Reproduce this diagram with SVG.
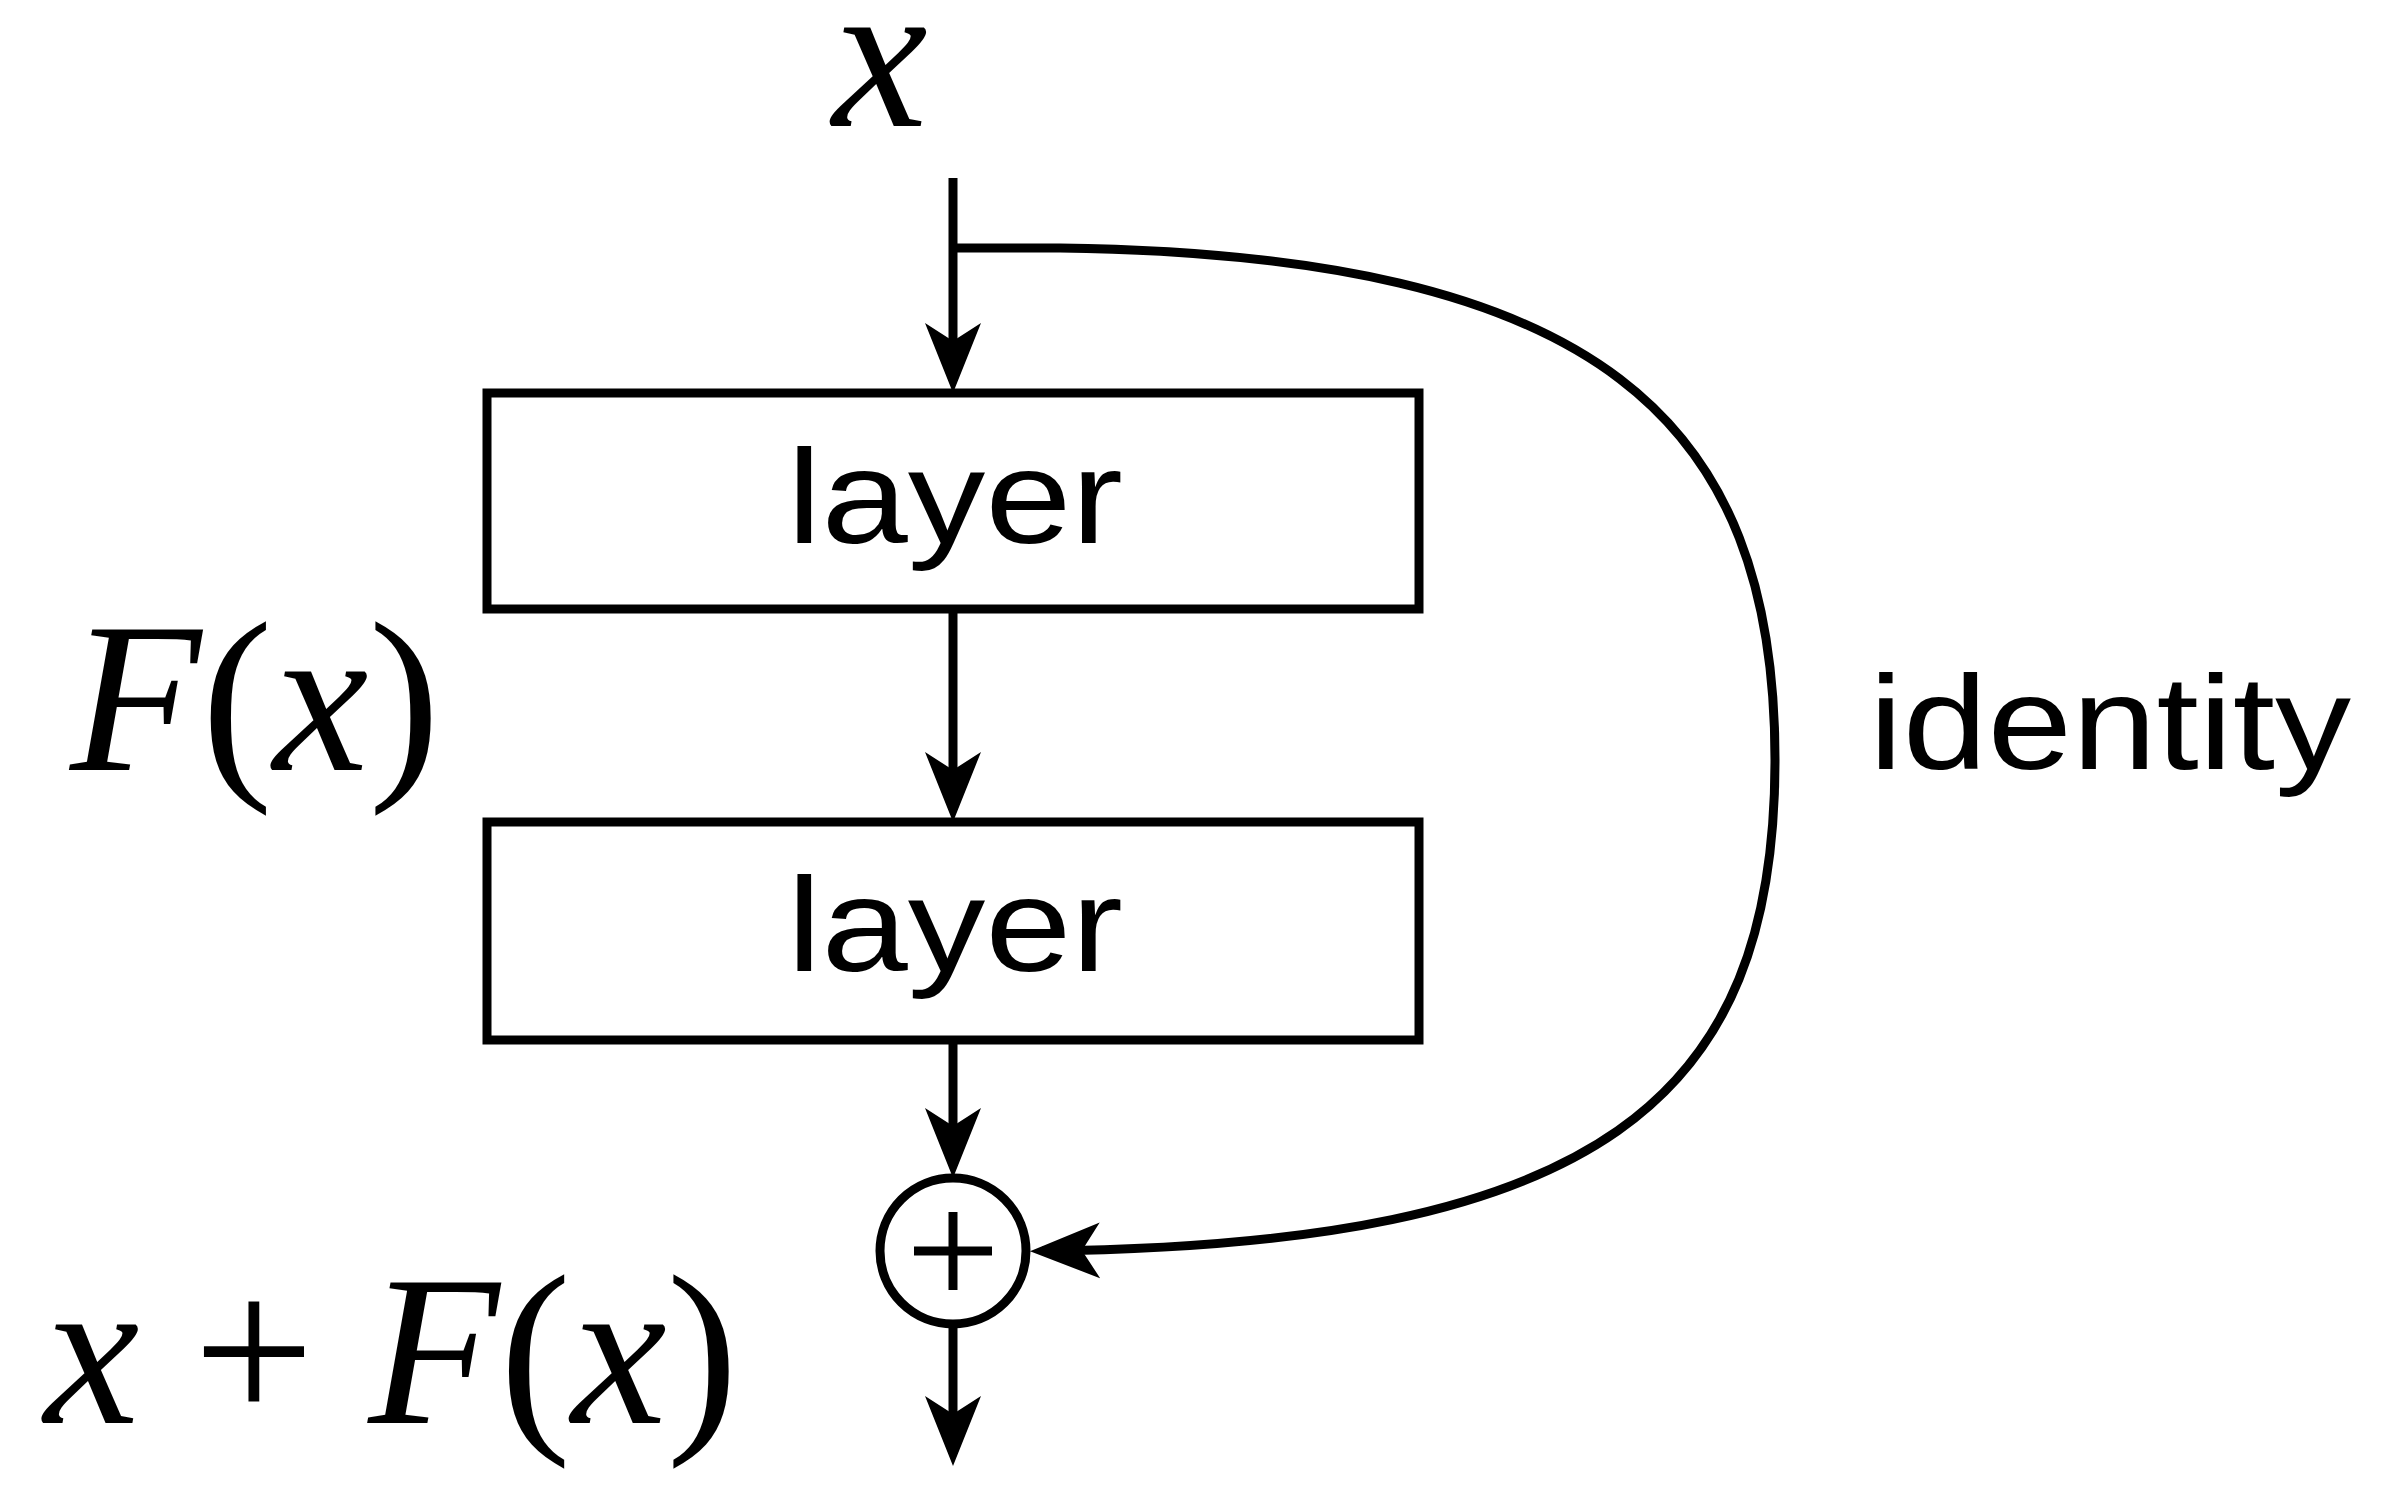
<svg xmlns="http://www.w3.org/2000/svg" width="2386" height="1488" viewBox="0 0 2386 1488">
<style>
.ln{fill:none;stroke:#000;stroke-width:9}
.box{fill:#fff;stroke:#000;stroke-width:9}
.sans{font-family:"Liberation Sans",Arial,sans-serif;font-size:134px}
.math{font-family:"Liberation Serif","Times New Roman",serif;font-size:215px}
</style>
<defs>
<marker id="ah" markerUnits="userSpaceOnUse" markerWidth="80" markerHeight="70" refX="58" refY="30" orient="auto">
<path d="M0,2 L70,30 L0,58 L18,30 Z" fill="#000"/>
</marker>
</defs>
<rect width="2386" height="1488" fill="#fff"/>
<g id="connectors">
<line class="ln" x1="953" y1="178" x2="953" y2="381" marker-end="url(#ah)"/>
<line class="ln" x1="953" y1="609" x2="953" y2="810" marker-end="url(#ah)"/>
<line class="ln" x1="953" y1="1040" x2="953" y2="1166" marker-end="url(#ah)"/>
<line class="ln" x1="953" y1="1324" x2="953" y2="1454" marker-end="url(#ah)"/>
<path class="ln" stroke-width="10" d="M953,248 L1060,248 C1600,255 1775,420 1775,760 C1775,1100 1600,1245 1042,1251" marker-end="url(#ah)"/>
</g>
<g id="x-label"><text class="math" x="880" y="126" text-anchor="middle" font-style="italic" font-size="200">x</text></g>
<g id="layer1"><rect class="box" x="487" y="393" width="932" height="216"/><text class="sans" x="787" y="543" textLength="336" lengthAdjust="spacingAndGlyphs">layer</text></g>
<g id="layer2"><rect class="box" x="487" y="822" width="932" height="218"/><text class="sans" x="787" y="971" textLength="336" lengthAdjust="spacingAndGlyphs">layer</text></g>
<g id="add"><circle cx="953" cy="1251" r="73" fill="#fff" stroke="#000" stroke-width="9"/><line class="ln" x1="953" y1="1212" x2="953" y2="1290"/><line class="ln" x1="914" y1="1251" x2="992" y2="1251"/></g>
<g id="fx-label"><text class="math" x="70" y="770"><tspan font-style="italic">F</tspan>(<tspan font-style="italic">x</tspan>)</text></g>
<g id="identity-label"><text class="sans" x="1869" y="769" textLength="482" lengthAdjust="spacingAndGlyphs">identity</text></g>
<g id="sum-label"><text class="math" x="44" y="1423"><tspan font-style="italic">x</tspan> + <tspan font-style="italic">F</tspan>(<tspan font-style="italic">x</tspan>)</text></g>
</svg>
